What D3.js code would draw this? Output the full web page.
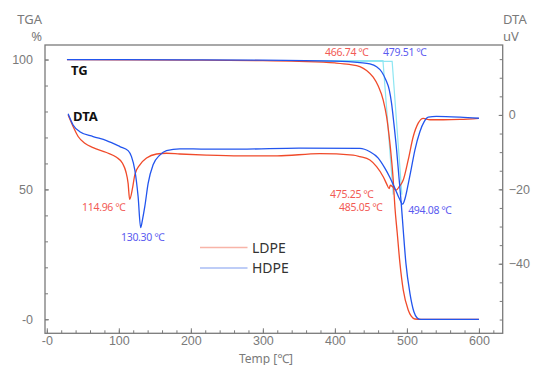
<!DOCTYPE html>
<html>
<head>
<meta charset="utf-8">
<script src="https://cdn.jsdelivr.net/npm/d3@7"></script>
<style>
  body { margin: 0; background: #fff; }
  svg { display: block; font-family: 'Noto Sans', 'DejaVu Sans', sans-serif; }
</style>
</head>
<body>
<div id="chart"></div>
<script>
// [temp, TGA %]
const ldpeTG = [[28,100],[100,99.9],[200,99.8],[300,99.6],[350,99.3],[400,98.7],[420,98.1],[434.7,97.3],[444,95.8],[453.2,93.2],[460.2,89.8],[467.1,84.4],[471.8,78],[475.4,70.3],[478.7,61.3],[481,53.6],[483.3,43.3],[486.6,33.1],[490.3,21.6],[494.9,11.3],[501.8,3.6],[506,1.2],[511,0.1],[520,0],[560,0],[600,0]];
const hdpeTG = [[28,100],[100,100],[200,99.9],[300,99.8],[400,99.4],[434.7,98.8],[448.6,98.3],[457.9,97.2],[464.9,95.3],[470.8,92.1],[475.5,88.3],[478.7,83.1],[481.9,75.4],[485.7,65.2],[488.9,54.9],[492,45],[494.9,34.4],[498.6,21.6],[504.2,10],[509.7,2.9],[514,0.6],[518,0],[560,0],[600,0]];
// [temp, DTA uV]
const ldpeDTA = [[29.6,0],[36.5,-3.1],[43.5,-5.8],[52.8,-7.6],[64.3,-8.8],[82.9,-10.1],[96.8,-11.4],[105.1,-13],[109.7,-15.2],[112.9,-18.4],[115,-22.7],[119,-19.7],[122.2,-16.1],[129.2,-13.4],[138.5,-11.6],[152.4,-10.5],[166.2,-10.3],[184.7,-10.5],[221.8,-10.8],[268,-11],[320,-11],[379,-10.4],[425.4,-10.8],[434.7,-11.2],[448.6,-12.1],[457.9,-13.9],[467.1,-16.6],[472,-18.6],[475.3,-19.8],[477,-18.9],[480.1,-19.3],[485,-20.2],[489.3,-19.3],[494.9,-17.5],[501.8,-12.1],[508.8,-5.8],[515.7,-2.2],[522.7,-0.9],[532,-1.3],[550.4,-1.3],[573.6,-1.2],[600,-0.9]];
const hdpeDTA = [[29.6,0.3],[36.5,-2.7],[45.8,-4.5],[64.3,-5.8],[82.9,-6.9],[101.4,-8.5],[112.9,-9.6],[117.6,-11.2],[122.2,-14.8],[126.8,-22],[130.3,-30.3],[133,-28],[136.1,-24.6],[140.7,-18.4],[147.6,-13.4],[156.9,-10.8],[166.2,-9.6],[184.7,-9.1],[221.8,-9.2],[268,-9.2],[350,-8.9],[434.7,-9],[448.6,-9.9],[460.2,-11.6],[469.4,-14.3],[476.4,-16.8],[483.3,-19.7],[489.3,-22.4],[494.1,-24],[497.5,-22.4],[501.8,-18.6],[506,-14.5],[511,-9.5],[518,-4.5],[524,-1.8],[529.6,-0.6],[541,-0.4],[573.6,-0.6],[600,-0.9]];
// onset construction lines [temp, TGA %]
const ldpeOnset = [[350,99.6],[466.74,99.6],[481,48]];
const hdpeOnset = [[350,99.3],[479.51,99.3],[493,48]];

const seriesNames = ['LDPE', 'HDPE'];
const xTicks = [0, 100, 200, 300, 400, 500, 600];
const tgaTicks = [0, 50, 100];
const dtaTicks = [0, -20, -40];

// peak / onset annotations: [text, temp, value, axis, series]
const notes = [
  ['466.74 ℃', 416.7, 101.5, 'tga', 0],
  ['479.51 ℃', 497.2, 101.5, 'tga', 1],
  ['114.96 ℃', 79.2, -25.8, 'dta', 0],
  ['130.30 ℃', 133.3, -33.9, 'dta', 1],
  ['475.25 ℃', 423.6, -22.3, 'dta', 0],
  ['485.05 ℃', 436.1, -25.8, 'dta', 0],
  ['494.08 ℃', 532, -26.7, 'dta', 1]
];

const W = 534, H = 365;
const margin = { top: 45, right: 31.3, bottom: 31.7, left: 45 };
const lineColors = ['#f04a2a', '#2255ee'];
const noteColors = ['#f25a55', '#5a5af0'];
const legendColors = ['#f8b4a8', '#a8bdf5'];
const axisColor = '#7a7a7a';
const labelColor = '#7a7a7a';

const svg = d3.select('#chart').append('svg')
  .attr('width', W).attr('height', H);

const x = d3.scaleLinear().domain([-2.5, 633]).range([margin.left, W - margin.right]);
const yT = d3.scaleLinear().domain([-5.4, 105.6]).range([H - margin.bottom, margin.top]);
const yD = d3.scaleLinear().domain([-58.7, 18.8]).range([H - margin.bottom, margin.top]);

// frame
svg.append('rect')
  .attr('x', margin.left).attr('y', margin.top)
  .attr('width', W - margin.left - margin.right)
  .attr('height', H - margin.top - margin.bottom)
  .attr('fill', 'none').attr('stroke', axisColor).attr('stroke-width', 1.3);

function styleAxis(g) {
  g.select('.domain').remove();
  g.selectAll('line').attr('stroke', axisColor);
  g.selectAll('text').attr('fill', labelColor).attr('font-size', 12.5);
}

// x axis
svg.append('g')
  .attr('transform', 'translate(0,' + (H - margin.bottom) + ')')
  .call(d3.axisBottom(x).tickValues(d3.range(0, 621, 20)).tickSize(-3).tickFormat(''))
  .call(styleAxis);
svg.append('g')
  .attr('transform', 'translate(0,' + (H - margin.bottom) + ')')
  .call(d3.axisBottom(x).tickValues(xTicks).tickSize(-5).tickPadding(3)
    .tickFormat(d => d === 0 ? '-0' : d))
  .call(styleAxis);

// left axis
svg.append('g')
  .attr('transform', 'translate(' + margin.left + ',0)')
  .call(d3.axisLeft(yT).tickValues(d3.range(0, 101, 10)).tickSize(-3).tickFormat(''))
  .call(styleAxis);
svg.append('g')
  .attr('transform', 'translate(' + margin.left + ',0)')
  .call(d3.axisLeft(yT).tickValues(tgaTicks).tickSize(-4).tickPadding(12)
    .tickFormat(d => d === 0 ? '-0' : d))
  .call(styleAxis);

// right axis
svg.append('g')
  .attr('transform', 'translate(' + (W - margin.right) + ',0)')
  .call(d3.axisRight(yD).tickValues(d3.range(-55, 16, 5)).tickSize(-3).tickFormat(''))
  .call(styleAxis);
svg.append('g')
  .attr('transform', 'translate(' + (W - margin.right) + ',0)')
  .call(d3.axisRight(yD).tickValues(dtaTicks).tickSize(-4).tickPadding(6))
  .call(styleAxis);

// axis titles
svg.append('text').attr('x', 42).attr('y', 24).attr('text-anchor', 'end')
  .attr('fill', labelColor).attr('font-size', 13).text('TGA');
svg.append('text').attr('x', 42).attr('y', 41).attr('text-anchor', 'end')
  .attr('fill', labelColor).attr('font-size', 13).text('%');
svg.append('text').attr('x', 503).attr('y', 24)
  .attr('fill', labelColor).attr('font-size', 13).text('DTA');
svg.append('text').attr('x', 503).attr('y', 41)
  .attr('fill', labelColor).attr('font-size', 13).text('uV');
svg.append('text').attr('x', 266).attr('y', 362.5).attr('text-anchor', 'middle')
  .attr('fill', labelColor).attr('font-size', 12).text('Temp [℃]');

const lineT = d3.line().x(d => x(d[0])).y(d => yT(d[1])).curve(d3.curveMonotoneX);
const lineD = d3.line().x(d => x(d[0])).y(d => yD(d[1])).curve(d3.curveMonotoneX);
const lineStraight = d3.line().x(d => x(d[0])).y(d => yT(d[1]));

// onset construction lines
[ldpeOnset, hdpeOnset].forEach(pts => {
  svg.append('path').attr('d', lineStraight(pts))
    .attr('fill', 'none').attr('stroke', '#8ee6f2').attr('stroke-width', 1.2);
});

[[ldpeTG, ldpeDTA], [hdpeTG, hdpeDTA]].forEach((s, i) => {
  svg.append('path').attr('d', lineT(s[0]))
    .attr('fill', 'none').attr('stroke', lineColors[i]).attr('stroke-width', 1.3);
  svg.append('path').attr('d', lineD(s[1]))
    .attr('fill', 'none').attr('stroke', lineColors[i]).attr('stroke-width', 1.3);
});

// curve labels
svg.append('text').attr('x', 71).attr('y', 75)
  .attr('font-size', 13).attr('font-weight', 'bold').attr('fill', '#111').text('TG');
svg.append('text').attr('x', 73).attr('y', 121)
  .attr('font-size', 13).attr('font-weight', 'bold').attr('fill', '#111').text('DTA');

// annotations
svg.selectAll('.note').data(notes).enter().append('text')
  .attr('class', 'note')
  .attr('x', d => x(d[1]))
  .attr('y', d => d[3] === 'tga' ? yT(d[2]) : yD(d[2]))
  .attr('text-anchor', 'middle')
  .attr('font-size', 10.5)
  .attr('letter-spacing', -0.3)
  .attr('fill', d => noteColors[d[4]])
  .text(d => d[0]);

// legend
const legend = svg.append('g');
seriesNames.forEach((name, i) => {
  const ly = 247.5 + i * 20.5;
  legend.append('line').attr('x1', 200).attr('x2', 247.5).attr('y1', ly).attr('y2', ly)
    .attr('stroke', legendColors[i]).attr('stroke-width', 1.5);
  legend.append('text').attr('x', 252).attr('y', ly + 5)
    .attr('font-size', 14).attr('fill', '#333').text(name);
});
</script>
</body>
</html>
